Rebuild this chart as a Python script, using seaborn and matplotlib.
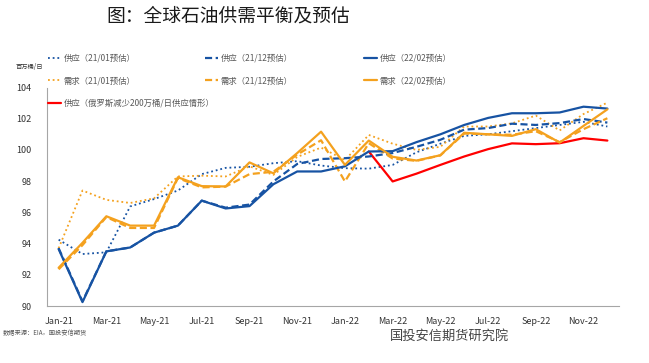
import numpy as np
import pandas as pd
import matplotlib
matplotlib.use("Agg")
import matplotlib.pyplot as plt
import seaborn as sns

months = ["Jan-21", "Feb-21", "Mar-21", "Apr-21", "May-21", "Jun-21", "Jul-21", "Aug-21",
          "Sep-21", "Oct-21", "Nov-21", "Dec-21", "Jan-22", "Feb-22", "Mar-22", "Apr-22",
          "May-22", "Jun-22", "Jul-22", "Aug-22", "Sep-22", "Oct-22", "Nov-22", "Dec-22"]
tick_labels = ["Jan-21", "Mar-21", "May-21", "Jul-21", "Sep-21", "Nov-21",
               "Jan-22", "Mar-22", "May-22", "Jul-22", "Sep-22", "Nov-22"]

supply_2101 = [94.25, 93.33, 93.44, 96.38, 96.85, 97.4, 98.45, 98.85, 98.92, 99.15, 99.28, 99.0,
               98.83, 98.8, 99.04, 99.85, 100.4, 100.9, 101.0, 101.2, 101.4, 101.6, 101.8, 101.5]
supply_2112 = [93.7, 90.3, 93.5, 93.75, 94.7, 95.15, 96.75, 96.3, 96.5, 97.98, 99.1, 99.42,
               99.47, 99.58, 99.8, 100.2, 100.65, 101.3, 101.4, 101.68, 101.6, 101.72, 101.98, 101.75]
supply_2202 = [93.65, 90.25, 93.5, 93.75, 94.7, 95.15, 96.75, 96.25, 96.4, 97.8, 98.62, 98.62,
               98.95, 99.9, 99.92, 100.5, 101.0, 101.6, 102.05, 102.35, 102.35, 102.4, 102.77, 102.65]
demand_2101 = [93.7, 97.4, 96.8, 96.6, 96.9, 98.3, 98.35, 98.3, 98.95, 98.4, 99.55, 100.15,
               99.35, 100.96, 100.4, 100.0, 100.2, 101.5, 101.5, 101.7, 102.2, 101.25, 102.3, 103.03]
demand_2112 = [92.35, 93.9, 95.7, 95.0, 95.0, 98.2, 97.6, 97.65, 98.45, 98.6, 99.7, 100.62,
               97.98, 100.43, 99.45, 99.3, 99.65, 101.05, 101.0, 100.97, 101.2, 100.5, 101.33, 102.03]
demand_2202 = [92.45, 94.05, 95.75, 95.15, 95.15, 98.25, 97.68, 97.66, 99.2, 98.5, 99.8, 101.17,
               99.04, 100.6, 99.56, 99.32, 99.66, 101.1, 101.0, 100.9, 101.33, 100.47, 101.54, 102.6]
supply_russia = [np.nan] * 13 + [99.9, 97.98, 98.48, 99.04, 99.58, 100.05, 100.42, 100.37,
                                 100.43, 100.75, 100.6]

labels = ["供应（21/01预估）", "需求（21/01预估）", "供应（俄罗斯减少200万桶/日供应情形）",
          "供应（21/12预估）", "需求（21/12预估）", "供应（22/02预估）", "需求（22/02预估）"]

BLUE = "#1753A3"
ORANGE = "#F4A11E"
RED = "#FF0000"

sns.set_style("white")
plt.rcParams["font.family"] = ["Noto Sans CJK SC", "DejaVu Sans"]

fig = plt.figure(figsize=(6.49, 3.63), dpi=100)
ax = fig.add_axes([46.7 / 649, 1 - 306 / 363, (619.3 - 46.7) / 649, (306 - 87.5) / 363])

x = np.arange(len(months))
dot = (0, (1, 1.6))
dash = (0, (3.2, 1.6))
specs = [
    (supply_2101, BLUE, dot, 1.3),
    (demand_2101, ORANGE, dot, 1.3),
    (supply_russia, RED, "-", 1.6),
    (supply_2112, BLUE, dash, 1.6),
    (demand_2112, ORANGE, dash, 1.6),
    (supply_2202, BLUE, "-", 1.6),
    (demand_2202, ORANGE, "-", 1.6),
]
handles = []
for (vals, col, ls, lw), lab in zip(specs, labels):
    df = pd.DataFrame({"x": x, "y": vals}).dropna()
    sns.lineplot(data=df, x="x", y="y", ax=ax, color=col, linestyle=ls, linewidth=lw,
                 estimator=None, sort=False, label=lab, legend=False)
    handles.append(ax.lines[-1])

ax.set_xlim(-0.5, len(months) - 0.5)
ax.set_ylim(90, 104)
ax.set_yticks(np.arange(90, 105, 2))
ax.set_xticks(np.arange(0, len(months), 2))
ax.set_xticklabels(tick_labels)
ax.set_xticks(np.arange(-0.5, len(months), 2), minor=True)
ax.tick_params(axis="x", which="major", length=0, pad=8, labelsize=6.5, colors="#333333")
ax.tick_params(axis="x", which="minor", length=4, width=0.7, color="#A6A6A6", direction="out")
ax.tick_params(axis="y", which="major", length=3, width=0.7, color="#A6A6A6", pad=8,
               labelsize=6.5, labelcolor="#333333", direction="out")
ax.set_xlabel("")
ax.set_ylabel("")
for s in ["top", "right"]:
    ax.spines[s].set_visible(False)
for s in ["left", "bottom"]:
    ax.spines[s].set_color("#A6A6A6")
    ax.spines[s].set_linewidth(0.8)

# legend in three columns, placed manually
cols = [(48, [0, 1, 2]), (205, [3, 4]), (364, [5, 6])]
for xpix, idx in cols:
    leg = fig.legend([handles[i] for i in idx], [labels[i] for i in idx],
                     loc="upper left", bbox_to_anchor=(xpix / 649, 1 - 54 / 363),
                     frameon=False, fontsize=6, handlelength=1.6, handletextpad=0.3,
                     labelspacing=1.6, borderaxespad=0, borderpad=0, labelcolor="#595959")

fig.text(228 / 649, 1 - 16 / 363, "图：全球石油供需平衡及预估", ha="center", va="center",
         fontsize=13.5, color="#1a1a1a")
fig.text(16 / 649, 1 - 67 / 363, "百万桶/日", ha="left", va="center", fontsize=4.5,
         color="#333333")
fig.text(3 / 649, 1 - 333 / 363, "数据来源：EIA，国投安信期货", ha="left", va="center",
         fontsize=4.5, color="#555555")
fig.text(390 / 649, 1 - 336 / 363, "国投安信期货研究院", ha="left", va="center",
         fontsize=9.5, color="#444444")

fig.savefig("out.png", dpi=100)
